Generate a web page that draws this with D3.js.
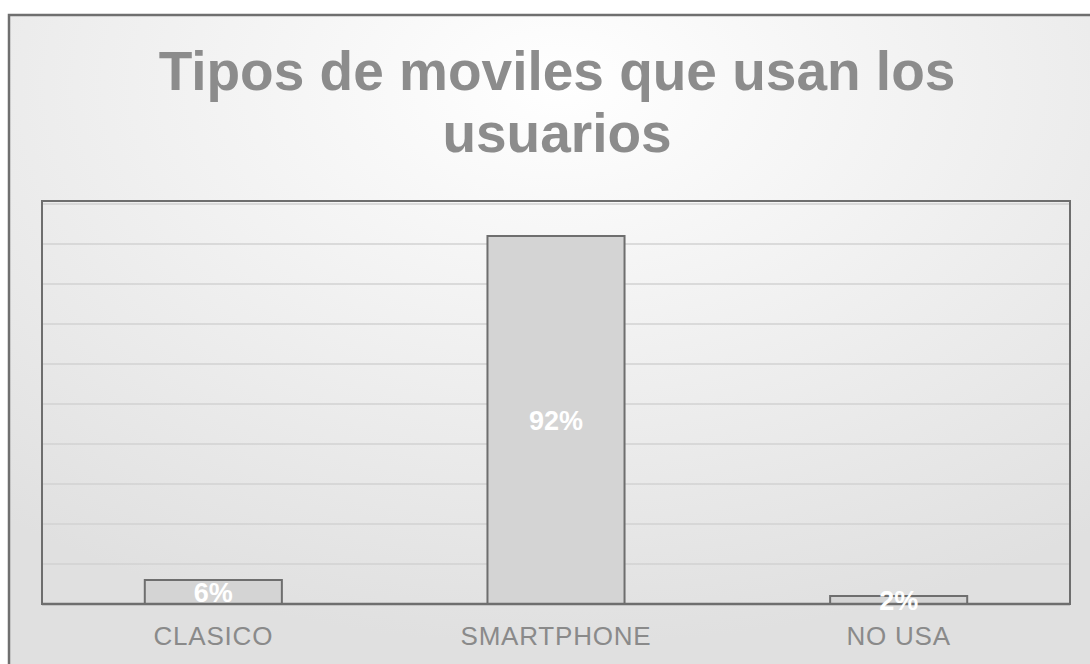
<!DOCTYPE html>
<html><head><meta charset="utf-8">
<script src="https://cdn.jsdelivr.net/npm/d3@7"></script>
<style>body{margin:0;background:#fff}svg{display:block}</style>
</head><body>
<script>
const categories = ["CLASICO", "SMARTPHONE", "NO USA"];
const values = [0.06, 0.92, 0.02];
const valueLabels = ["6%", "92%", "2%"];
const titleLines = ["Tipos de moviles que usan los", "usuarios"];
const gridTicks = [0.1,0.2,0.3,0.4,0.5,0.6,0.7,0.8,0.9,1.0];

const W = 1090, H = 664;
const svg = d3.select("body").append("svg").attr("width", W).attr("height", H);
const defs = svg.append("defs");
const rg = defs.append("radialGradient").attr("id","bg").attr("cx","50%").attr("cy","10%").attr("r","80%");
rg.append("stop").attr("offset","0%").attr("stop-color","#ffffff");
rg.append("stop").attr("offset","100%").attr("stop-color","#e0e0e0");

svg.append("rect").attr("x",9).attr("y",15).attr("width",1100).attr("height",700)
  .attr("fill","url(#bg)").attr("stroke","#6f6f6f").attr("stroke-width",2.5);

const m = {left:42, right:1070, top:201, bottom:604};
const x = d3.scaleBand().domain(categories).range([m.left, m.right]).paddingInner(0.6).paddingOuter(0.3);
const y = d3.scaleLinear().domain([0,1]).range([m.bottom, m.top + 3]);

svg.append("g").selectAll("line").data(gridTicks).join("line")
  .attr("x1",m.left).attr("x2",m.right).attr("y1",d=>y(d)).attr("y2",d=>y(d))
  .attr("stroke","#d2d2d2").attr("stroke-width",1.5);

svg.append("rect").attr("x",m.left).attr("y",m.top).attr("width",m.right-m.left).attr("height",m.bottom-m.top)
  .attr("fill","none").attr("stroke","#6e6e6e").attr("stroke-width",2);

svg.append("g").selectAll("rect").data(values).join("rect")
  .attr("x",(d,i)=>x(categories[i])).attr("width",x.bandwidth())
  .attr("y",d=>y(d)).attr("height",d=>m.bottom-y(d))
  .attr("fill","#d4d4d4").attr("stroke","#6e6e6e").attr("stroke-width",2);

svg.append("line").attr("x1",m.left).attr("x2",m.right).attr("y1",m.bottom).attr("y2",m.bottom)
  .attr("stroke","#6e6e6e").attr("stroke-width",2.5);

svg.append("g").selectAll("text").data(values).join("text")
  .attr("x",(d,i)=>x(categories[i])+x.bandwidth()/2)
  .attr("y",d=>(y(d)+m.bottom)/2 + 10)
  .attr("text-anchor","middle").attr("font-family","Liberation Sans, Arial, sans-serif")
  .attr("font-weight","bold").attr("font-size",27).attr("fill","#ffffff")
  .text((d,i)=>valueLabels[i]);

svg.append("g").selectAll("text").data(categories).join("text")
  .attr("x",d=>x(d)+x.bandwidth()/2).attr("y",645)
  .attr("text-anchor","middle").attr("font-family","Liberation Sans, Arial, sans-serif")
  .attr("font-size",26).attr("letter-spacing",0.8).attr("fill","#8a8a8a").text(d=>d);

svg.append("g").selectAll("text").data(titleLines).join("text")
  .attr("x",557).attr("y",(d,i)=>90+i*62)
  .attr("text-anchor","middle").attr("font-family","Liberation Sans, Arial, sans-serif")
  .attr("font-weight","bold").attr("font-size",55).attr("fill","#8c8c8c").text(d=>d);
</script>
</body></html>
